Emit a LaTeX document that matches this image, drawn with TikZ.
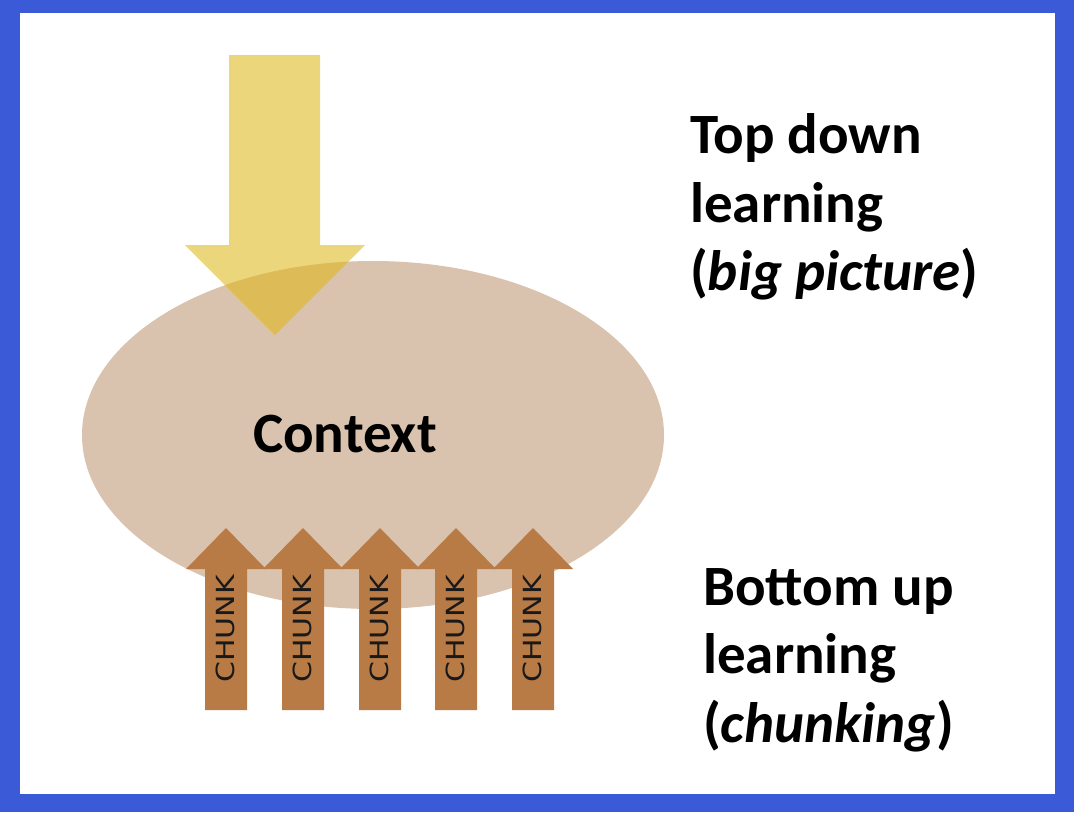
\documentclass[tikz,border=0pt]{standalone}
\usepackage{fontspec}
\usepackage{graphicx}
\setmainfont{Carlito}
\newfontfamily\chunkfont{DejaVu Sans}
\usetikzlibrary{shapes.geometric}
\definecolor{frameblue}{HTML}{3A5AD8}
\definecolor{ctxfill}{HTML}{D9C3AF}
\definecolor{yel}{HTML}{ECD67C}
\definecolor{yeldark}{HTML}{DDBB56}
\definecolor{chunkc}{HTML}{B97B45}
\tikzset{
  bigtext/.style={font=\fontsize{57}{68}\selectfont\bfseries, text=black, inner sep=0pt, anchor=base west},
  chunklabel/.style={rotate=90, inner sep=0pt, font=\chunkfont\fontsize{25}{30}\selectfont, text=black!90},
  chunkarrow/.style={fill=chunkc, draw=none}
}
\newcommand{\yarrowpath}{(229,55) -- (320,55) -- (320,245) -- (365,245) -- (275,335) -- (185,245) -- (229,245) -- cycle}
\newcommand{\chunkpath}[1]{(#1-21,710) -- (#1+21,710) -- (#1+21,569) -- (#1+40,569) -- (#1,528) -- (#1-40,569) -- (#1-21,569) -- cycle}
\begin{document}
\begin{tikzpicture}[x=1pt,y=-1pt]
\useasboundingbox (0,0) rectangle (1074,812);
\fill[frameblue] (0,0) rectangle (1074,812);
\fill[white] (20,13) rectangle (1055,794);
% context ellipse
\node[ellipse, fill=ctxfill, minimum width=582pt, minimum height=348pt, inner sep=0pt] (ctx) at (373,435) {};
\node[font=\fontsize{57}{68}\selectfont\bfseries, inner sep=0pt, anchor=base] (ctxt) at (345,452) {Context};
% top-down arrow
\fill[yel] \yarrowpath;
\begin{scope}
  \clip (373,435) ellipse [x radius=291, y radius=174];
  \fill[yeldark] \yarrowpath;
\end{scope}
% chunk arrows
\foreach \c/\n in {226/1,303/2,380/3,456/4,533/5}{
  \fill[chunkarrow] \chunkpath{\c};
  \node[chunklabel] (chunk\n) at (\c-1,629) {\scalebox{1.2}[1]{CHUNK}};
}
% right texts
\node[bigtext] (td1) at (690,153) {Top down};
\node[bigtext] (td2) at (690,222) {learning};
\node[bigtext] (td3) at (690,290) {(\textit{big picture})};
\node[bigtext] (bu1) at (703,605) {Bottom up};
\node[bigtext] (bu2) at (703,673) {learning};
\node[bigtext] (bu3) at (703,742) {(\textit{chunking})};
\end{tikzpicture}
\end{document}
